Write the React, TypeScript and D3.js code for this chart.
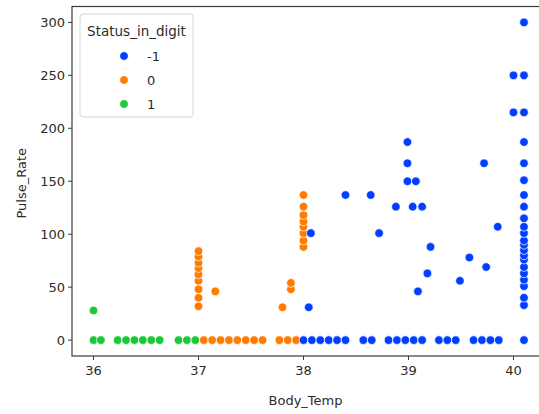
import React from 'react';
import * as d3 from 'd3';

// Body_Temp / Pulse_Rate pairs, grouped by Status_in_digit
const statusOne: [number, number][] = [
  [36.0, 0], [36.07, 0], [36.23, 0], [36.31, 0], [36.39, 0], [36.47, 0], [36.55, 0], [36.63, 0],
  [36.81, 0], [36.89, 0], [36.97, 0], [36.0, 28],
];

const statusZero: [number, number][] = [
  [37.05, 0], [37.13, 0], [37.21, 0], [37.29, 0], [37.37, 0], [37.45, 0], [37.53, 0], [37.61, 0],
  [37.77, 0], [37.85, 0], [37.93, 0],
  [37.0, 32], [37.0, 40], [37.0, 48], [37.0, 56], [37.0, 62], [37.0, 68], [37.0, 73], [37.0, 79], [37.0, 84],
  [37.16, 46], [37.8, 31], [37.88, 48], [37.88, 54],
  [38.0, 88], [38.0, 94], [38.0, 101], [38.0, 107], [38.0, 112], [38.0, 118], [38.0, 126], [38.0, 137],
];

const statusNegOne: [number, number][] = [
  [38.0, 0], [38.08, 0], [38.16, 0], [38.24, 0], [38.32, 0], [38.4, 0], [38.57, 0], [38.65, 0],
  [38.81, 0], [38.89, 0], [38.97, 0], [39.05, 0], [39.13, 0], [39.29, 0], [39.37, 0], [39.45, 0],
  [39.62, 0], [39.7, 0], [39.78, 0], [39.86, 0], [40.1, 0],
  [38.05, 31], [38.07, 101], [38.4, 137], [38.64, 137], [38.72, 101], [38.88, 126],
  [38.99, 187], [38.99, 167], [38.99, 150], [39.07, 150], [39.04, 126], [39.13, 126],
  [39.09, 46], [39.18, 63], [39.21, 88], [39.49, 56], [39.58, 78], [39.72, 167], [39.74, 69],
  [39.85, 107], [40.0, 250], [40.0, 215],
  [40.1, 33], [40.1, 40], [40.1, 51], [40.1, 57], [40.1, 63], [40.1, 69], [40.1, 76], [40.1, 80],
  [40.1, 85], [40.1, 90], [40.1, 94], [40.1, 101], [40.1, 107], [40.1, 115], [40.1, 126], [40.1, 137],
  [40.1, 151], [40.1, 167], [40.1, 187], [40.1, 215], [40.1, 250], [40.1, 300],
];

const statusLabels = ['-1', '0', '1'];
const statusColors = ['#023eff', '#ff7c00', '#1ac938'];
const xTicks = [36, 37, 38, 39, 40];
const yTicks = [0, 50, 100, 150, 200, 250, 300];

const W = 539;
const H = 414;
const font = 'DejaVu Sans, sans-serif';
const textColor = '#2b2b2b';

export default function App() {
  const x = d3.scaleLinear().domain([35.795, 40.305]).range([72, 545.5]);
  const y = d3.scaleLinear().domain([-15, 315]).range([356, 6.5]);
  const [x0, x1] = x.range();
  const [yb, yt] = y.range();

  // draw order: green, orange, blue on top
  const groups = [
    { pts: statusOne, color: statusColors[2] },
    { pts: statusZero, color: statusColors[1] },
    { pts: statusNegOne, color: statusColors[0] },
  ];

  return (
    <svg width={W} height={H} style={{ position: 'absolute', left: 0, top: 0 }} fontFamily={font}>
      <rect width={W} height={H} fill="#fff" />

      {groups.map((g, gi) => (
        <g key={gi}>
          {g.pts.map((d, i) => (
            <circle key={i} cx={x(d[0])} cy={y(d[1])} r={4.3} fill={g.color} stroke="#fff" strokeWidth={0.7} />
          ))}
        </g>
      ))}

      {/* spines */}
      <rect x={x0} y={yt} width={x1 - x0} height={yb - yt} fill="none" stroke="#3a3a3a" strokeWidth={1.2} />

      {/* x axis */}
      {xTicks.map(t => (
        <g key={t} transform={`translate(${x(t)},${yb})`}>
          <line y2={4} stroke="#3a3a3a" strokeWidth={1} />
          <text y={19} textAnchor="middle" fontSize={13} fill={textColor}>{t}</text>
        </g>
      ))}
      {/* y axis */}
      {yTicks.map(t => (
        <g key={t} transform={`translate(${x0},${y(t)})`}>
          <line x2={-4} stroke="#3a3a3a" strokeWidth={1} />
          <text x={-7} dy="0.35em" textAnchor="end" fontSize={13} fill={textColor}>{t}</text>
        </g>
      ))}

      <text x={(x0 + 539) / 2 + 0} y={405} textAnchor="middle" fontSize={13} fill={textColor}>Body_Temp</text>
      <text transform={`translate(26,${(yt + yb) / 2 + 2}) rotate(-90)`} textAnchor="middle" fontSize={13} fill={textColor}>Pulse_Rate</text>

      {/* legend */}
      <g>
        <rect x={80} y={14} width={113} height={103} rx={3} fill="#fff" fillOpacity={0.8} stroke="#d6d6d6" strokeWidth={1} />
        <text x={136.5} y={36} textAnchor="middle" fontSize={13.5} fill={textColor}>Status_in_digit</text>
        {statusLabels.map((s, i) => (
          <g key={s} transform={`translate(0,${56 + i * 24})`}>
            <circle cx={124} cy={0} r={4.3} fill={statusColors[i]} stroke="#fff" strokeWidth={0.7} />
            <text x={147} dy="0.35em" fontSize={13} fill={textColor}>{s}</text>
          </g>
        ))}
      </g>
    </svg>
  );
}
